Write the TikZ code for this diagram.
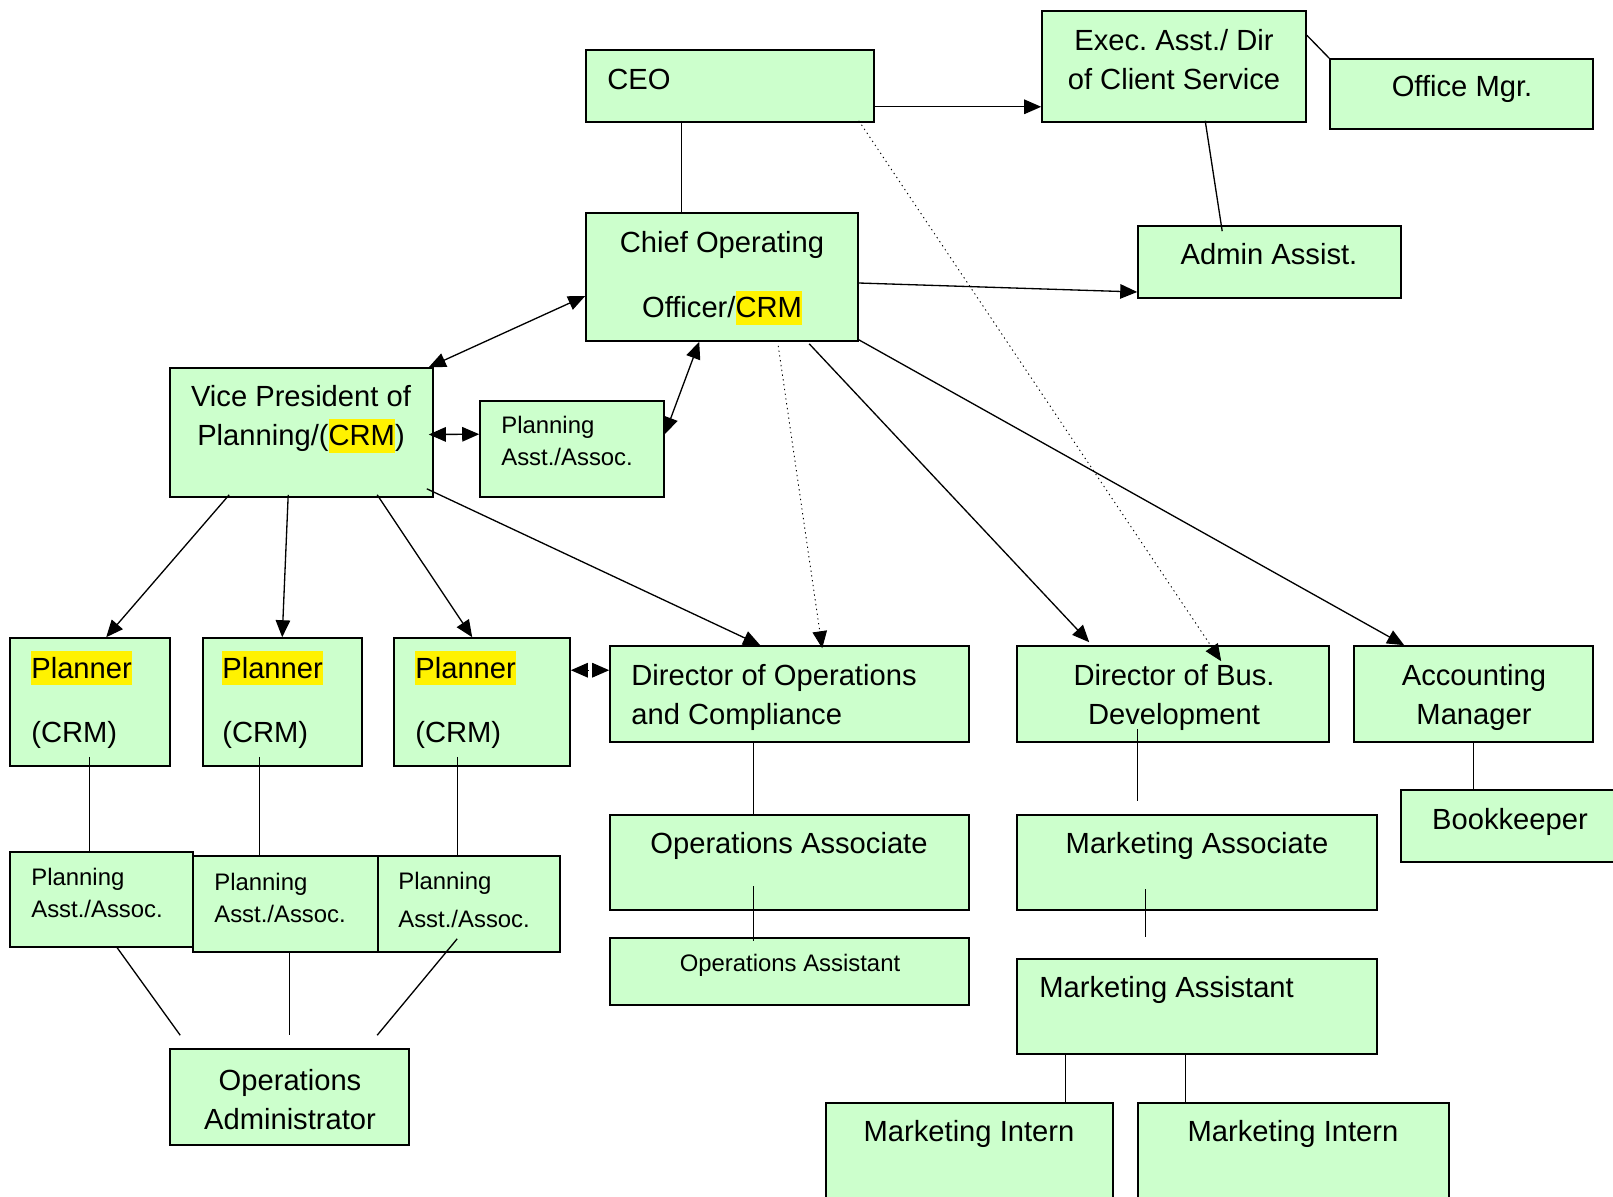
\documentclass[tikz,border=0pt]{standalone}
\usepackage{fontspec}
\setmainfont{Liberation Sans}
\usetikzlibrary{fit,calc,arrows.meta}
\definecolor{verdino}{HTML}{CCFFCC}
\newcommand\hl[1]{{\setlength{\fboxsep}{0pt}\colorbox{yellow}{\rule[-0.24em]{0pt}{1.16em}#1}}}
\frenchspacing

\begin{document}
\begin{tikzpicture}[x=0.02cm, y=-0.02cm,
		box/.style={draw, line width=0.9pt, fill=verdino, inner sep=0pt},
		big/.style={font=\fontsize{16.6}{22.2}\selectfont, inner sep=0pt},
		small/.style={font=\fontsize{13.6}{18.2}\selectfont, inner sep=0pt},
		line/.style={line width=0.75pt},
		arr/.style={line width=0.75pt, -{Triangle[length=0.34cm,width=0.29cm]}},
		dbl/.style={line width=0.75pt, {Triangle[length=0.34cm,width=0.29cm]}-{Triangle[length=0.34cm,width=0.29cm]}}]
				\useasboundingbox (0,0) rectangle (1613,1197);
				
				% Riquadri
				\node[box, fit={(586,50) (874,122)}] (ceo) {};
				\node[box, fit={(1042,11) (1306,122)}] (exec) {};
				\node[box, fit={(1330,59) (1593,129)}] (office) {};
				\node[box, fit={(586,213) (858,341)}] (coo) {};
				\node[box, fit={(1138,226) (1401,298)}] (admin) {};
				\node[box, fit={(170,368) (433,497)}] (vp) {};
				\node[box, fit={(480,401) (664,497)}] (pa0) {};
				\node[box, fit={(10,638) (170,766)}] (p1) {};
				\node[box, fit={(203,638) (362,766)}] (p2) {};
				\node[box, fit={(394,638) (570,766)}] (p3) {};
				\node[box, fit={(610,646) (969,742)}] (dops) {};
				\node[box, fit={(1017,646) (1329,742)}] (dbus) {};
				\node[box, fit={(1354,646) (1593,742)}] (acct) {};
				\node[box, fit={(1401,790) (1620,862)}] (book) {};
				\node[box, fit={(610,815) (969,910)}] (oassoc) {};
				\node[box, fit={(1017,815) (1377,910)}] (massoc) {};
				\node[box, fit={(610,938) (969,1005)}] (oasst) {};
				\node[box, fit={(1017,959) (1377,1054)}] (masst) {};
				\node[box, fit={(826,1103) (1113,1205)}] (int1) {};
				\node[box, fit={(1138,1103) (1449,1205)}] (int2) {};
				\node[box, fit={(10,852) (193,947)}] (pa1) {};
				\node[box, fit={(193,856) (378,952)}] (pa2) {};
				\node[box, fit={(378,856) (560,952)}] (pa3) {};
				\node[box, fit={(170,1049) (409,1145)}] (oadm) {};
				
				% Testi
				\node[big, anchor=west] (ceoT) at (607,79) {CEO};
				\node[big, align=center] (execT) at (1174,60) {Exec. Asst./ Dir\\of Client Service};
				\node[big] (officeT) at (1462,89) {Office Mgr.};
				\node[big, align=center] (cooT) at (722,278) {Chief Operating\\[15pt]Officer/\hl{CRM}};
				\node[big] (adminT) at (1269,254) {Admin Assist.};
				\node[big, align=center] (vpT) at (301,419) {Vice President of\\Planning/(\hl{CRM})};
				\node[small, anchor=west, align=left] (pa0T) at (501,441) {Planning\\Asst./Assoc.};
				\node[big, anchor=west, align=left] (p1T) at (31,700) {\hl{Planner}\\[14.5pt](CRM)};
				\node[big, anchor=west, align=left] (p2T) at (222,700) {\hl{Planner}\\[14.5pt](CRM)};
				\node[big, anchor=west, align=left] (p3T) at (415,700) {\hl{Planner}\\[14.5pt](CRM)};
				\node[big, anchor=west, align=left] (dopsT) at (631,697) {Director of Operations\\and Compliance};
				\node[big, align=center] (dbusT) at (1174,697) {Director of Bus.\\Development};
				\node[big, align=center] (acctT) at (1474,697) {Accounting\\Manager};
				\node[big] (bookT) at (1510,822) {Bookkeeper};
				\node[big] (oassocT) at (789,846) {Operations Associate};
				\node[big] (massocT) at (1197,846) {Marketing Associate};
				\node[small] (oasstT) at (790,965) {Operations Assistant};
				\node[big, anchor=west] (masstT) at (1039,990) {Marketing Assistant};
				\node[big] (int1T) at (969,1134) {Marketing Intern};
				\node[big] (int2T) at (1293,1134) {Marketing Intern};
				\node[small, anchor=west, align=left] (pa1T) at (31,893) {Planning\\Asst./Assoc.};
				\node[small, anchor=west, align=left] (pa2T) at (214,898) {Planning\\Asst./Assoc.};
				\node[small, anchor=west, align=left] (pa3T) at (398,900) {Planning\\[3pt]Asst./Assoc.};
				\node[big, align=center] (oadmT) at (290,1100) {Operations\\Administrator};
				
				% Collegamenti
				\draw[arr] ($(ceo.south east)+(0,-16)$) -- ($(exec.south west)+(0,-16)$);
				\draw[line] ($(exec.north east)+(0,25)$) -- (office.north west);
				\draw[line] ($(ceo.south west)+(96,-2)$) -- ($(coo.north west)+(96,0)$);
				\draw[line] ($(exec.south west)+(164,-2)$) -- ($(admin.north west)+(85,6)$);
				\draw[arr] ($(coo.east)+(0,6)$) -- ($(admin.west)+(0,30)$);
				\draw[dbl] ($(coo.west)+(0,19)$) -- ($(vp.north east)+(-5,0)$);
				\draw[dbl] ($(coo.south west)+(114,0)$) -- ($(pa0.north east)+(0,34)$);
				\draw[dbl] ($(vp.east)+(-5,2)$) -- ($(pa0.north west)+(0,34)$);
				\draw[arr] ($(vp.south west)+(60,-3)$) -- ($(p1.north west)+(97,0)$);
				\draw[arr] ($(vp.south west)+(119,-3)$) -- ($(p2.north west)+(80,0)$);
				\draw[arr] ($(vp.south west)+(208,-3)$) -- ($(p3.north west)+(79,0)$);
				\draw[arr] ($(vp.south east)+(-7,-9)$) -- ($(dops.north west)+(151,0)$);
				\draw[arr, dotted, line width=0.5pt] ($(coo.south west)+(193,4)$) -- ($(dops.north west)+(213,3)$);
				\draw[arr, dotted, line width=0.5pt] ($(ceo.south east)+(-16,-2)$) -- ($(dbus.north west)+(205,16)$);
				\draw[arr] ($(coo.south west)+(224,2)$) -- ($(dbus.north west)+(73,-3)$);
				\draw[arr] ($(coo.south east)+(0,-2)$) -- ($(acct.north west)+(51,0)$);
				\draw[dbl, dotted] ($(p3.north east)+(0,33)$) -- ($(dops.north west)+(0,25)$);
				\draw[line] ($(p1.south west)+(80,-10)$) -- ($(pa1.north west)+(80,0)$);
				\draw[line] ($(p2.south west)+(57,-10)$) -- ($(pa2.north west)+(67,0)$);
				\draw[line] ($(p3.south west)+(64,-10)$) -- ($(pa3.north west)+(80,0)$);
				\draw[line] ($(pa1.south west)+(108,0)$) -- ($(oadm.north west)+(11,-13)$);
				\draw[line] ($(pa2.south west)+(97,0)$) -- ($(oadm.north west)+(120,-13)$);
				\draw[line] ($(pa3.south west)+(80,-14)$) -- ($(oadm.north west)+(208,-13)$);
				\draw[line] ($(dops.south west)+(144,0)$) -- ($(oassoc.north west)+(144,0)$);
				\draw[line] ($(oassoc.north west)+(144,72)$) -- ($(oasst.north west)+(144,4)$);
				\draw[line] ($(dbus.south west)+(121,-14)$) -- ($(massoc.north west)+(121,-13)$);
				\draw[line] ($(massoc.north west)+(129,75)$) -- ($(masst.north west)+(129,-21)$);
				\draw[line] ($(acct.south west)+(120,0)$) -- ($(book.north west)+(73,0)$);
				\draw[line] ($(masst.south west)+(49,0)$) -- ($(int1.north west)+(240,0)$);
				\draw[line] ($(masst.south west)+(169,0)$) -- ($(int2.north west)+(48,0)$);
			\end{tikzpicture}
\end{document}
